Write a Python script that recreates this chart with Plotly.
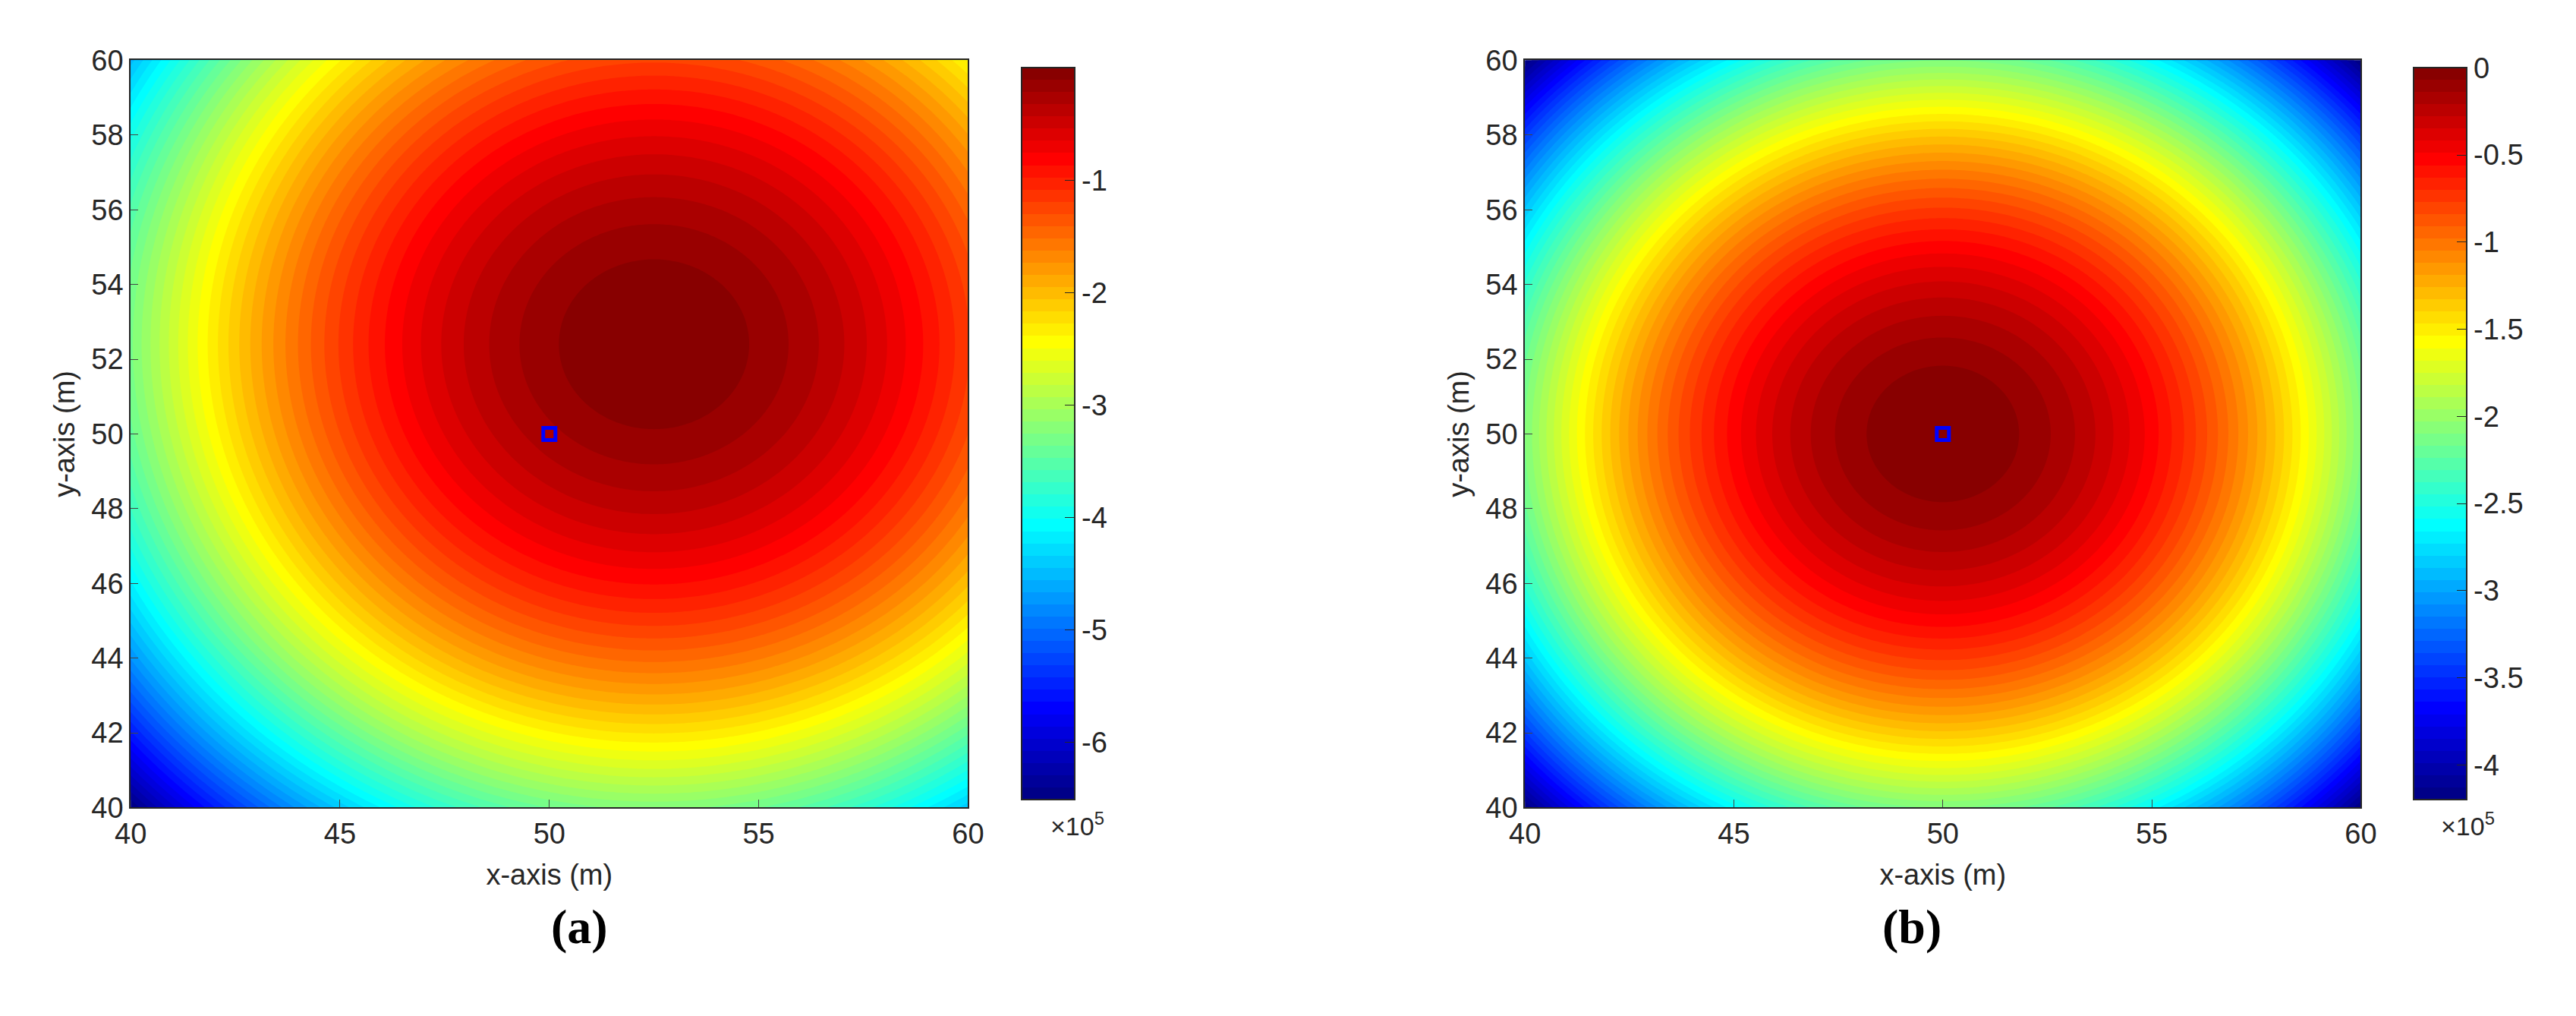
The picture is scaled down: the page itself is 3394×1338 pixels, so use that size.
import numpy as np
import plotly.graph_objects as go

# data
x_vals = np.linspace(40, 60, 241)
y_vals = np.linspace(40, 60, 241)
coef = 2100.0                 # field curvature
center_a = (52.5, 52.4)       # peak of panel (a)
center_b = (50.0, 50.0)       # peak of panel (b)
marker_xy = (50.0, 50.0)      # blue square
ticks_a = [-1, -2, -3, -4, -5, -6]
ticks_b = [0, -0.5, -1, -1.5, -2, -2.5, -3, -3.5, -4]
axis_ticks = [40, 45, 50, 55, 60]
y_ticks = [40, 42, 44, 46, 48, 50, 52, 54, 56, 58, 60]

X, Y = np.meshgrid(x_vals, y_vals)
def field(c):
    return -coef * ((X - c[0])**2 + (Y - c[1])**2)
za = field(center_a)
zb = field(center_b)

jet = [[0, 'rgb(0,0,128)'], [0.125, 'rgb(0,0,255)'], [0.375, 'rgb(0,255,255)'],
       [0.625, 'rgb(255,255,0)'], [0.875, 'rgb(255,0,0)'], [1, 'rgb(128,0,0)']]

W, H = 3394, 1338
font = dict(family='Liberation Sans, Arial', size=38, color='#262626')
fig = go.Figure()

def add_panel(z, ticks, xa, ya, cbx):
    n = 60
    zmin, zmax = z.min(), z.max()
    fig.add_trace(go.Contour(
        x=x_vals, y=y_vals, z=z, xaxis=xa, yaxis=ya,
        colorscale=jet, zmin=zmin, zmax=zmax,
        contours=dict(start=zmin, end=zmax, size=(zmax - zmin) / n, coloring='fill', showlines=False),
        line=dict(width=0),
        colorbar=dict(x=cbx, xanchor='left', y=1 - 52 / H, yanchor='top', len=(1068 - 52) / H,
                      thickness=70, outlinewidth=2, outlinecolor='#262626',
                      tickvals=[t * 1e5 for t in ticks], ticktext=[('%g' % t) for t in ticks],
                      ticks='inside', ticklen=14, tickcolor='#262626', tickfont=font)))
    fig.add_trace(go.Scatter(x=[marker_xy[0]], y=[marker_xy[1]], xaxis=xa, yaxis=ya, mode='markers',
                             marker=dict(symbol='square-open', size=16, color='blue', line=dict(width=5, color='blue')),
                             showlegend=False))

add_panel(za, ticks_a, 'x', 'y', 1323 / W)
add_panel(zb, ticks_b, 'x2', 'y2', 3180 / W)

ax = dict(range=[40, 60], tickvals=axis_ticks, ticks='inside', ticklen=10, showline=True, linecolor='#262626',
          linewidth=2, mirror=True, showgrid=False, zeroline=False, tickfont=font)
ay = dict(ax, tickvals=y_ticks)
y0, y1 = 1 - 1068 / H, 1 - 52 / H
fig.update_layout(
    width=W, height=H, margin=dict(l=0, r=0, t=0, b=0), plot_bgcolor='white', paper_bgcolor='white',
    showlegend=False, font=font,
    xaxis=dict(ax, domain=[145 / W, 1262 / W], anchor='y', title=dict(text='x-axis (m)', font=font, standoff=20)),
    yaxis=dict(ay, domain=[y0, y1], anchor='x', title=dict(text='y-axis (m)', font=font, standoff=10)),
    xaxis2=dict(ax, domain=[2005 / W, 3120 / W], anchor='y2', title=dict(text='x-axis (m)', font=font, standoff=20)),
    yaxis2=dict(ay, domain=[y0, y1], anchor='x2', title=dict(text='y-axis (m)', font=font, standoff=10)),
)
for xc, lab in [((145 + 1262) / 2 / W, '(a)'), ((2005 + 3120) / 2 / W, '(b)')]:
    fig.add_annotation(x=xc, y=1 - 1230 / H, xref='paper', yref='paper', text='<b>%s</b>' % lab, yanchor='middle',
                       showarrow=False, font=dict(family='Liberation Serif', size=64, color='black'))
for xc in [1370 / W, 3225 / W]:
    fig.add_annotation(x=xc, y=1 - 1115 / H, xref='paper', yref='paper', text='×10<sup>5</sup>',
                       showarrow=False, xanchor='left', font=dict(family='Liberation Sans', size=34, color='#262626'))
fig.write_html('out.html')
